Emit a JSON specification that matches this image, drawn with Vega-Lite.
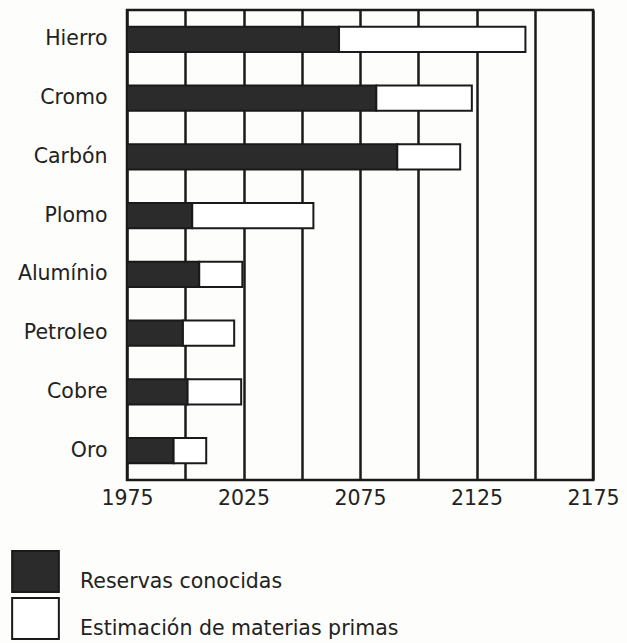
{
  "$schema": "https://vega.github.io/schema/vega-lite/v6.json",
  "autosize": "none",
  "width": 466,
  "height": 470,
  "padding": {"left": 127, "top": 10, "right": 34, "bottom": 163},
  "background": "#fdfdfb",
  "config": {
    "font": "DejaVu Sans",
    "view": {"stroke": "#1a1a1a", "strokeWidth": 2.5}
  },
  "data": {
    "values": [
      {"material": "Hierro", "serie": "Reservas conocidas", "inicio": 1975, "fin": 2066},
      {"material": "Hierro", "serie": "Estimación de materias primas", "inicio": 2066, "fin": 2146},
      {"material": "Cromo", "serie": "Reservas conocidas", "inicio": 1975, "fin": 2082},
      {"material": "Cromo", "serie": "Estimación de materias primas", "inicio": 2082, "fin": 2123},
      {"material": "Carbón", "serie": "Reservas conocidas", "inicio": 1975, "fin": 2091},
      {"material": "Carbón", "serie": "Estimación de materias primas", "inicio": 2091, "fin": 2118},
      {"material": "Plomo", "serie": "Reservas conocidas", "inicio": 1975, "fin": 2003},
      {"material": "Plomo", "serie": "Estimación de materias primas", "inicio": 2003, "fin": 2055},
      {"material": "Alumínio", "serie": "Reservas conocidas", "inicio": 1975, "fin": 2006},
      {"material": "Alumínio", "serie": "Estimación de materias primas", "inicio": 2006, "fin": 2024.5},
      {"material": "Petroleo", "serie": "Reservas conocidas", "inicio": 1975, "fin": 1999},
      {"material": "Petroleo", "serie": "Estimación de materias primas", "inicio": 1999, "fin": 2021},
      {"material": "Cobre", "serie": "Reservas conocidas", "inicio": 1975, "fin": 2001},
      {"material": "Cobre", "serie": "Estimación de materias primas", "inicio": 2001, "fin": 2024},
      {"material": "Oro", "serie": "Reservas conocidas", "inicio": 1975, "fin": 1995},
      {"material": "Oro", "serie": "Estimación de materias primas", "inicio": 1995, "fin": 2009}
    ]
  },
  "mark": {"type": "bar", "stroke": "#1a1a1a", "strokeWidth": 2, "cornerRadius": 0},
  "encoding": {
    "y": {
      "field": "material",
      "type": "nominal",
      "sort": ["Hierro", "Cromo", "Carbón", "Plomo", "Alumínio", "Petroleo", "Cobre", "Oro"],
      "scale": {"paddingInner": 0.57, "paddingOuter": 0.285},
      "axis": {
        "title": null,
        "domain": false,
        "ticks": false,
        "labelFontSize": 20.5,
        "labelColor": "#222222",
        "labelPadding": 20
      }
    },
    "x": {
      "field": "inicio",
      "type": "quantitative",
      "scale": {"domain": [1975, 2175], "nice": false, "zero": false},
      "axis": {
        "title": null,
        "values": [1975, 2000, 2025, 2050, 2075, 2100, 2125, 2150, 2175],
        "labelExpr": "datum.value % 50 == 25 ? datum.value : ''",
        "format": "d",
        "grid": true,
        "gridColor": "#1a1a1a",
        "gridWidth": 2.5,
        "gridOpacity": 1,
        "domain": false,
        "ticks": false,
        "labelFontSize": 20.5,
        "labelColor": "#222222",
        "labelPadding": 8,
        "labelFlush": false
      }
    },
    "x2": {"field": "fin"},
    "fill": {
      "field": "serie",
      "type": "nominal",
      "scale": {
        "domain": ["Reservas conocidas", "Estimación de materias primas"],
        "range": ["#2b2b2b", "#ffffff"]
      },
      "legend": {
        "title": null,
        "orient": "none",
        "legendX": -113,
        "legendY": 540,
        "direction": "vertical",
        "symbolType": "M-1.14,-1H1.14V1H-1.14Z",
        "symbolSize": 1680,
        "symbolStrokeColor": "#1a1a1a",
        "symbolStrokeWidth": 2,
        "symbolFillColor": "#ffffff",
        "labelFontSize": 20.5,
        "labelColor": "#222222",
        "labelBaseline": "top",
        "labelOffset": 23,
        "rowPadding": -2,
        "labelLimit": 500
      }
    }
  }
}
